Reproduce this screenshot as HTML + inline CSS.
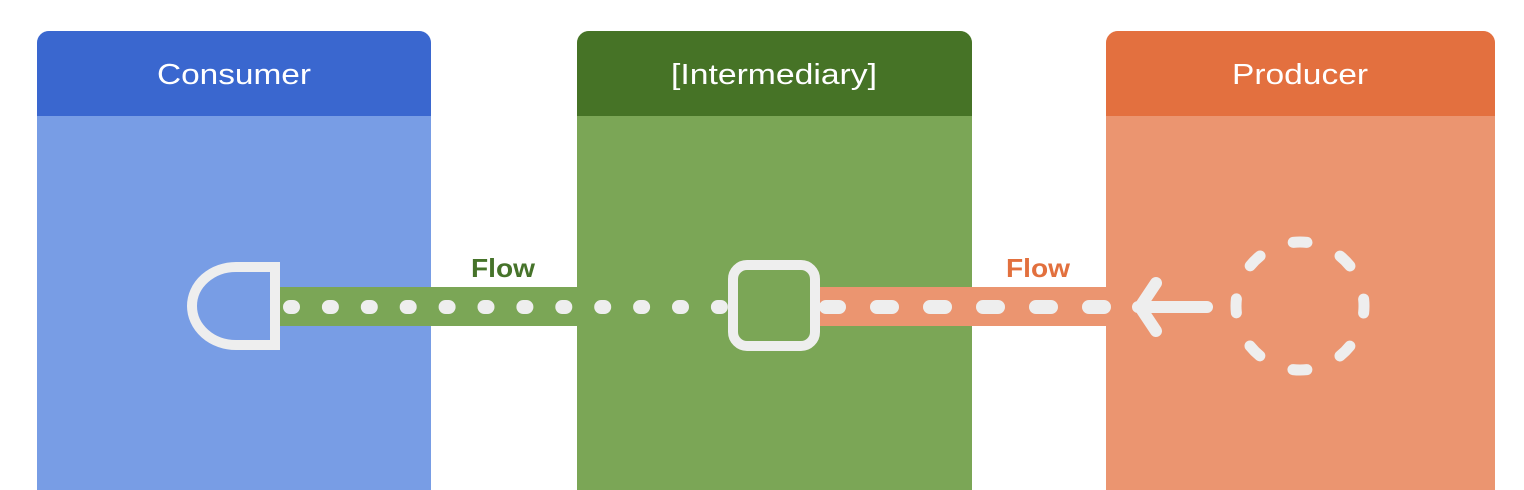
<!DOCTYPE html>
<html><head><meta charset="utf-8"><style>
html,body{margin:0;padding:0;background:#fff;}
svg{display:block;}
</style></head><body>
<svg width="1524" height="490" viewBox="0 0 1524 490" xmlns="http://www.w3.org/2000/svg">
<defs>
<clipPath id="c1"><rect x="37" y="31" width="394" height="490" rx="12"/></clipPath>
<clipPath id="c2"><rect x="577" y="31" width="395" height="490" rx="12"/></clipPath>
<clipPath id="c3"><rect x="1106" y="31" width="389" height="490" rx="12"/></clipPath>
</defs>
<g clip-path="url(#c1)"><rect x="37" y="31" width="394" height="460" fill="#789de5"/><rect x="37" y="31" width="394" height="85" fill="#3a67cf"/></g>
<g clip-path="url(#c2)"><rect x="577" y="31" width="395" height="460" fill="#7ba656"/><rect x="577" y="31" width="395" height="85" fill="#467326"/></g>
<g clip-path="url(#c3)"><rect x="1106" y="31" width="389" height="460" fill="#eb9570"/><rect x="1106" y="31" width="389" height="85" fill="#e3703f"/></g>
<g font-family="Liberation Sans, sans-serif" fill="#fff" font-size="29" text-anchor="middle">
<text x="234" y="84" textLength="154" lengthAdjust="spacingAndGlyphs">Consumer</text>
<text x="774" y="84" textLength="206" lengthAdjust="spacingAndGlyphs">[Intermediary]</text>
<text x="1300" y="84" textLength="136" lengthAdjust="spacingAndGlyphs">Producer</text>
</g>
<g font-family="Liberation Sans, sans-serif" font-weight="bold" font-size="26" text-anchor="middle">
<text x="503" y="277" fill="#46732a" textLength="64" lengthAdjust="spacingAndGlyphs">Flow</text>
<text x="1038" y="277" fill="#e2703e" textLength="64" lengthAdjust="spacingAndGlyphs">Flow</text>
</g>
<rect x="276" y="287" width="456" height="39" fill="#7ba656"/>
<rect x="816" y="287" width="290" height="39" fill="#eb9570"/>
<g stroke="#eeeeee" stroke-linecap="round" fill="none">
<line x1="290" y1="307" x2="725" y2="307" stroke-width="14" stroke-dasharray="3 35.9"/>
<line x1="1104" y1="307" x2="826" y2="307" stroke-width="14" stroke-dasharray="15 38"/>
<path d="M1207 307 H1138 M1156 283 L1140 307 L1156 331" stroke-width="12" stroke-linejoin="round"/>
<circle cx="1300" cy="306" r="64" stroke-width="11" stroke-dasharray="14 36.27" stroke-dashoffset="7" transform="rotate(-90 1300 306)"/>
</g>
<path d="M275 267 H236 A44 39 0 0 0 236 345 H275 Z" fill="none" stroke="#eeeeee" stroke-width="10"/>
<rect x="733" y="265" width="82" height="81" rx="14" fill="#7ba656" stroke="#eeeeee" stroke-width="10"/>
</svg>
</body></html>
